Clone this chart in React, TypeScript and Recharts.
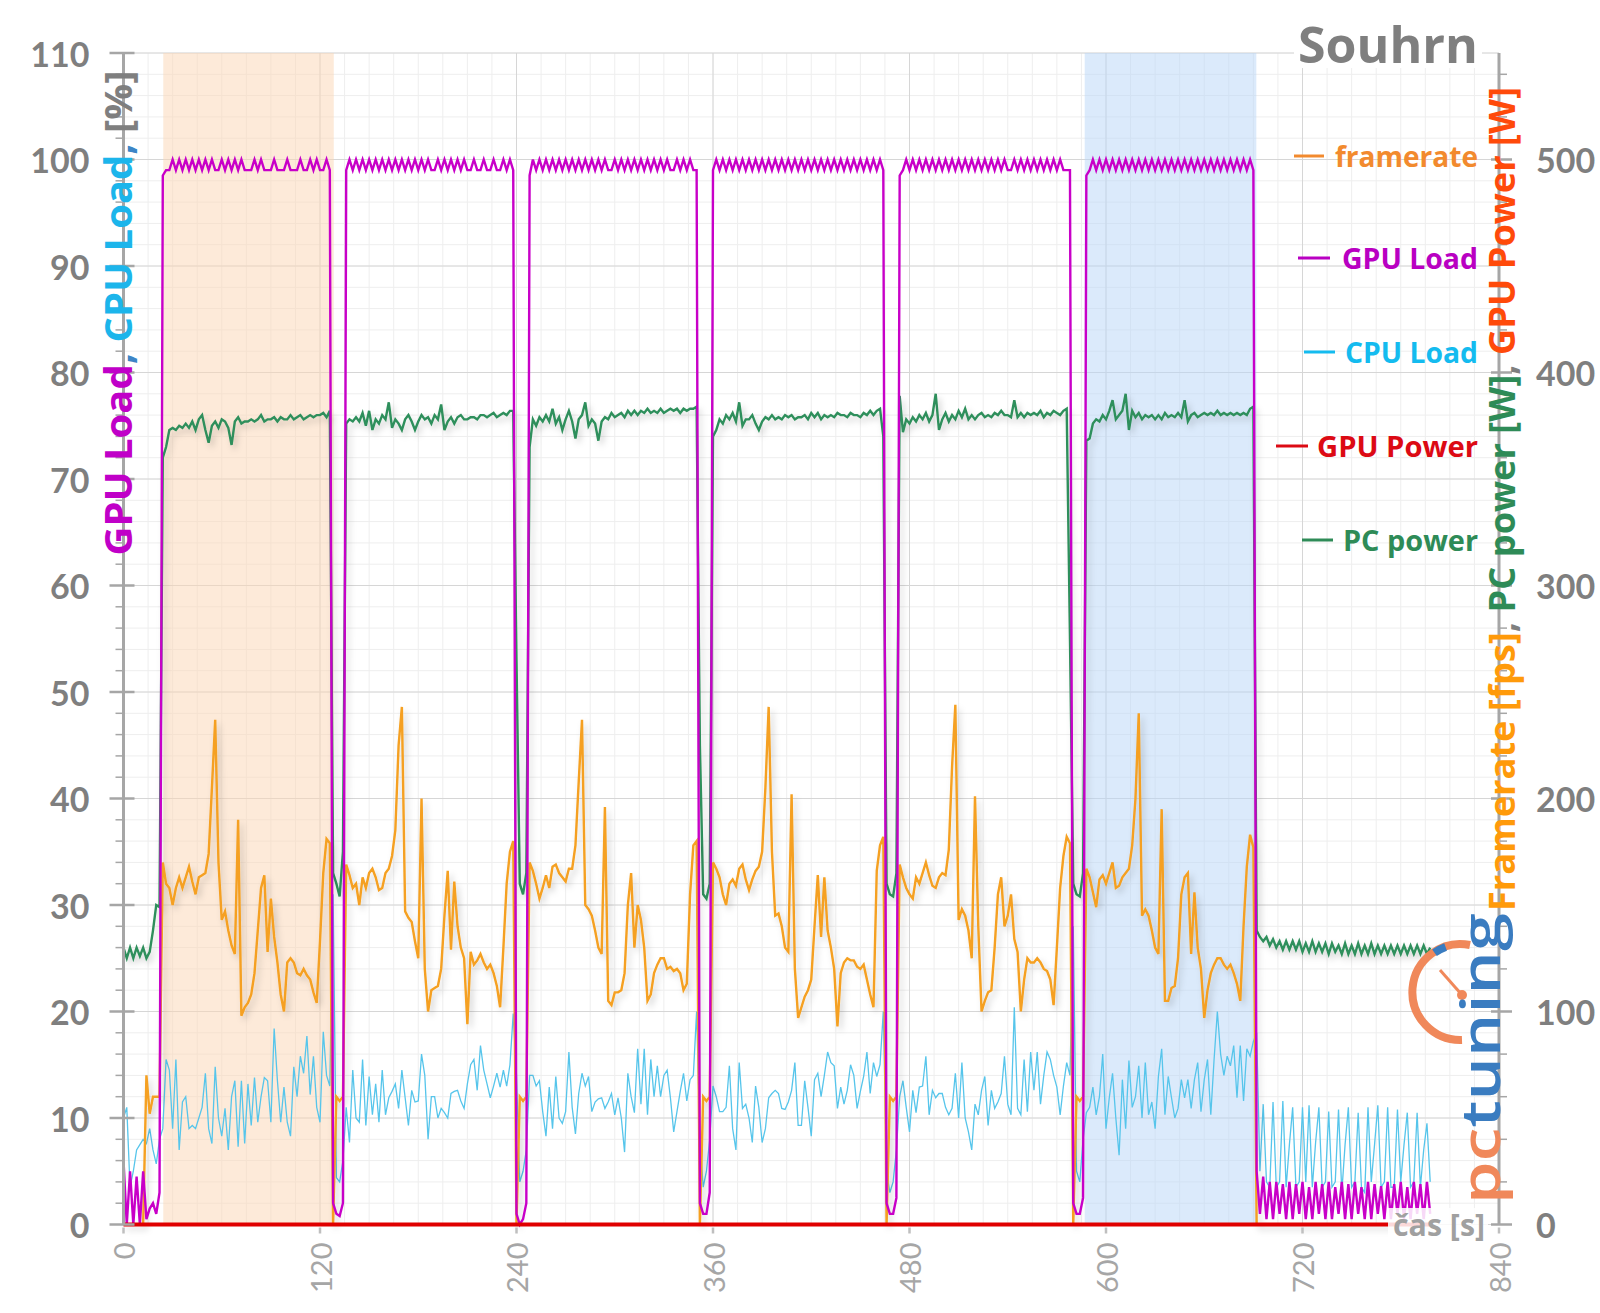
import { LineChart, Line, XAxis, YAxis, CartesianGrid, ReferenceArea } from 'recharts';

// one sample every 2 s, starting at t = 0
const SAMPLE_STEP = 2;

// framerate [fps]
const FRAMERATE = [
  0, 0, 0, 0, 0, 0, 0, 70, 52, 60, 60, 60,
  // run 1
  170, 160, 158, 150, 158, 163, 158, 163, 168, 161,
  155, 163, 164, 165, 174, 205, 237, 170, 143, 147,
  138, 131, 127, 190, 98, 102, 104, 108, 118, 138,
  158, 164, 128, 153, 135, 123, 108, 100, 123, 125,
  123, 118, 117, 120, 117, 115, 109, 104, 133, 165,
  181, 179,
  0, 60, 58, 60,
  // run 2
  169, 164, 158, 160, 150, 163, 158, 165, 167, 163,
  157, 158, 165, 167, 173, 185, 225, 243, 147, 144,
  142, 133, 125, 200, 120, 100, 110, 111, 112, 120,
  145, 166, 129, 161, 140, 130, 125, 94, 128, 122,
  124, 127, 123, 120, 122, 118, 112, 102, 130, 160,
  175, 180,
  0, 60, 58, 60,
  // run 3
  170, 166, 160, 153, 158, 164, 158, 168, 169, 165,
  163, 161, 167, 167, 178, 208, 237, 150, 148, 145,
  138, 130, 127, 196, 105, 103, 109, 109, 110, 118,
  150, 165, 130, 150, 143, 130, 105, 108, 118, 122,
  125, 125, 120, 121, 119, 120, 118, 110, 113, 155,
  178, 180,
  0, 60, 58, 60,
  // run 4
  170, 167, 163, 155, 150, 160, 162, 159, 167, 169,
  162, 157, 162, 166, 168, 175, 205, 243, 175, 145,
  146, 140, 130, 128, 202, 120, 97, 102, 107, 110,
  115, 140, 164, 135, 163, 138, 130, 120, 93, 118,
  123, 125, 124, 124, 121, 120, 122, 115, 108, 102,
  166, 178,
  182, 0, 60, 58, 60,
  // run 5
  169, 163, 158, 155, 153, 163, 160, 165, 170, 164,
  159, 158, 163, 165, 164, 176, 215, 244, 143, 148,
  145, 138, 125, 201, 140, 100, 105, 109, 110, 130,
  155, 163, 140, 145, 155, 134, 128, 100, 115, 125,
  123, 123, 125, 123, 120, 119, 115, 103, 130, 158,
  173, 182,
  179, 0, 60, 58, 60,
  // run 6
  167, 163, 156, 149, 162, 164, 160, 165, 170, 158,
  159, 163, 165, 167, 178, 200, 240, 145, 148, 145,
  138, 130, 127, 195, 105, 105, 111, 112, 125, 155,
  163, 165, 127, 156, 130, 120, 97, 110, 118, 122,
  125, 125, 122, 120, 122, 118, 113, 105, 140, 168,
  183, 177,
  // idle
  0, 0, 0, 0, 0, 0, 0, 0, 0, 0,
  0, 0, 0, 0, 0, 0, 0, 0, 0, 0,
  0, 0, 0, 0, 0, 0, 0, 0, 0, 0,
  0, 0, 0, 0, 0, 0, 0, 0, 0, 0,
  0, 0, 0, 0, 0, 0, 0, 0, 0, 0,
  0, 0, 0, 0,
];

// GPU load [%]
const GPU_LOAD = [
  6, 0, 5, 0, 4.5, 0, 5, 0.5, 1.5, 2, 1, 3,
  98.5, 99, 99, 100, 99, 100, 99, 100, 99, 100,
  99, 100, 99, 100, 99, 100, 99, 99, 100, 99,
  100, 99, 100, 99, 100, 99, 99, 99, 100, 99,
  100, 99, 99, 99, 100, 99, 99, 99, 100, 99,
  99, 99, 100, 99, 99, 100, 99, 100, 99, 99,
  100, 99,
  2, 1, 0.8, 2,
  99, 100, 99, 100, 99, 100, 99, 100, 99, 100,
  99, 100, 99, 100, 99, 100, 99, 100, 99, 100,
  99, 100, 99, 100, 99, 100, 99, 99, 100, 99,
  100, 99, 100, 99, 100, 99, 100, 99, 99, 100,
  99, 99, 100, 99, 99, 100, 99, 99, 100, 99,
  100, 99,
  1, 0, 0.5, 2,
  98.5, 100, 99, 100, 99, 100, 99, 100, 99, 100,
  99, 100, 99, 100, 99, 100, 99, 100, 99, 100,
  99, 100, 99, 100, 99, 99, 100, 99, 100, 99,
  100, 99, 100, 99, 100, 99, 100, 99, 100, 99,
  100, 99, 100, 99, 99, 100, 99, 100, 99, 100,
  99, 99,
  2, 1, 1, 3,
  99, 100, 99, 100, 99, 100, 99, 100, 99, 100,
  99, 100, 99, 100, 99, 100, 99, 100, 99, 100,
  99, 100, 99, 100, 99, 100, 99, 100, 99, 100,
  99, 100, 99, 100, 99, 100, 99, 100, 99, 100,
  99, 100, 99, 100, 99, 100, 99, 100, 99, 100,
  99, 100,
  99, 2, 1, 1, 2.5,
  98.5, 99, 100, 99, 100, 99, 100, 99, 100, 99,
  100, 99, 100, 99, 100, 99, 100, 99, 100, 99,
  100, 99, 100, 99, 100, 99, 100, 99, 100, 99,
  100, 99, 100, 99, 99, 100, 99, 100, 99, 100,
  99, 100, 99, 100, 99, 100, 99, 100, 99, 100,
  99, 99,
  99, 2, 1, 1, 2.5,
  98.5, 99, 100, 99, 100, 99, 100, 99, 100, 99,
  100, 99, 100, 99, 100, 99, 100, 99, 100, 99,
  100, 99, 100, 99, 100, 99, 100, 99, 100, 99,
  100, 99, 100, 99, 100, 99, 100, 99, 100, 99,
  100, 99, 100, 99, 100, 99, 100, 99, 100, 99,
  100, 99,
  5, 1, 4.5, 0.5, 4, 0.5, 4, 1, 3.8, 0.5,
  4, 0.5, 3.8, 1, 4, 0.5, 3.5, 0.5, 4, 1,
  3.8, 0.5, 4, 0.5, 3.5, 1, 4, 0.5, 3.8, 0.5,
  4, 1, 3.5, 0.5, 4, 0.5, 3.8, 1, 3.6, 0.5,
  4, 0.5, 3.8, 1, 4, 0.5, 3.5, 0.5, 4, 1,
  3.8, 0.5, 4, 1,
];

// CPU load [%]
const CPU_LOAD = [
  10, 11, 3.5, 5, 7, 7.5, 8, 7.6, 9, 7, 5.7, 8,
  9, 15.5, 14.5, 9, 15.5, 7, 11.5, 12, 9, 9.3,
  9, 10, 11, 14.2, 9, 7.6, 14.8, 10, 8.3, 10.9,
  7, 12, 13.5, 7.3, 13.5, 7.6, 13.2, 9.3, 13.8, 9.6,
  12, 13.8, 13.5, 9.6, 18.4, 13.5, 9.6, 12.9, 9.6, 8.3,
  14.8, 12, 15.8, 14.2, 17.7, 12.2, 15.8, 11, 9.6, 18.1,
  14, 13,
  31, 4.4, 4, 6,
  11, 7.7, 14.5, 10, 9.6, 15.5, 9.3, 13.9, 10.3, 13.2,
  9.6, 14.5, 10.3, 11.9, 12.5, 13.2, 10.9, 14.5, 11.9, 9.3,
  12.6, 11.5, 11.6, 16, 14, 8, 12, 12, 10, 10.9,
  10.5, 10, 12.3, 12.5, 12.6, 11.6, 10.9, 13.2, 15, 15.5,
  12.6, 16.8, 14.5, 13.2, 11.9, 13, 14.2, 12.9, 14.5, 13,
  15, 19.8,
  14, 4, 5, 7,
  14, 14, 13, 13.5, 10.6, 8.3, 12.9, 9, 13.9, 10,
  9.5, 10.6, 16.2, 11, 8.5, 12.3, 14.2, 13, 13.9, 10.6,
  11.5, 11.8, 11.9, 10.9, 11.5, 12.3, 10.3, 11.9, 10, 6.8,
  14.2, 12, 10.5, 16.5, 11.3, 16.5, 10.3, 15.5, 12, 14.9,
  12, 14, 14.5, 11.9, 8.7, 10.6, 12.5, 14.2, 11.6, 13.6,
  14, 20,
  8, 3.5, 5, 8,
  13, 12, 10.6, 10.6, 11, 14.9, 9, 7, 15.2, 10.9,
  11.3, 10, 7.7, 13, 11, 7.7, 9, 11.9, 12.3, 12.6,
  12.3, 10.9, 10.8, 11.5, 12.6, 15.2, 9.3, 9.3, 13.5, 11,
  8.3, 13.6, 14.2, 12, 14, 16.2, 15.2, 14.9, 10.9, 12.9,
  11.3, 12.6, 15, 14, 10.9, 12.5, 13.9, 16.2, 12.3, 15.2,
  13.9, 15,
  20, 5, 3, 4, 7,
  12, 13.5, 11, 8.7, 12.6, 10.5, 12.9, 13, 15.8, 10.3,
  12.6, 11.9, 12.3, 12.3, 11, 10.3, 10.9, 14.2, 10, 15.2,
  10, 8.7, 7, 11.3, 10.3, 12.6, 13.9, 9.3, 12.6, 10.9,
  11.5, 12.3, 15.8, 11.3, 10.3, 20.4, 10.9, 10.3, 15.5, 10.6,
  16.2, 12.6, 16.2, 11.3, 14, 16.2, 15.5, 14, 12.9, 10.3,
  13, 15.2,
  14, 28, 5, 4, 8,
  10.5, 11, 12.9, 10.3, 12, 16, 9, 11.9, 14.2, 10,
  6.5, 13.6, 9, 15.4, 11, 12, 14.9, 10, 15.2, 10.3,
  11.5, 9, 13.9, 16.5, 10.3, 13.9, 11.9, 10, 10.9, 13.6,
  11.9, 13.6, 10.9, 13.6, 15.2, 10.6, 13.6, 15.5, 10.3, 15.5,
  20, 16, 14, 15.8, 14.9, 16.8, 11.9, 16.8, 11.6, 16.5,
  15.8, 17.2,
  18, 5, 11.3, 4, 3.5, 11.5, 3.5, 4, 11.6, 3.5,
  7.5, 11, 3.5, 4, 11, 4, 11.2, 3.5, 7.7, 11,
  3.5, 4, 10.6, 3.5, 4, 10.8, 3, 7.5, 11, 3.5,
  4, 10.5, 3.5, 3, 11, 4, 7.5, 11.2, 3.5, 4,
  11, 3.5, 3.5, 10.8, 4, 7.5, 10.5, 3.5, 4, 10.5,
  3.5, 7, 9.5, 4,
];

// PC power [W]
const PC_POWER = [
  130, 125, 130, 125, 130, 126, 130, 125, 128, 138, 150, 149,
  360, 365, 373, 374, 373, 375, 374, 376, 374, 377,
  373, 378, 380, 373, 367, 375, 377, 374, 378, 377,
  374, 366, 377, 379, 376, 377, 377, 378, 377, 378,
  380, 377, 378, 378, 379, 377, 379, 378, 378, 380,
  378, 379, 380, 378, 379, 380, 379, 380, 380, 381,
  379, 382,
  165, 160, 154, 175,
  376, 378, 377, 379, 377, 381, 375, 382, 373, 378,
  376, 380, 378, 386, 374, 378, 376, 373, 378, 380,
  377, 373, 377, 380, 378, 379, 376, 380, 378, 385,
  373, 377, 379, 376, 379, 380, 378, 378, 379, 379,
  378, 380, 380, 379, 380, 381, 379, 380, 381, 380,
  382, 382,
  265, 160, 155, 165,
  365, 378, 375, 379, 377, 380, 377, 383, 376, 379,
  373, 378, 382, 377, 369, 378, 380, 386, 375, 378,
  376, 368, 377, 379, 378, 381, 379, 380, 381, 379,
  382, 380, 382, 380, 382, 381, 383, 381, 382, 381,
  383, 381, 382, 383, 382, 383, 381, 383, 382, 383,
  383, 384,
  225, 155, 153, 160,
  370, 373, 378, 376, 380, 378, 381, 377, 386, 375,
  378, 378, 380, 376, 373, 377, 379, 378, 380, 378,
  379, 378, 380, 379, 380, 378, 379, 379, 380, 378,
  381, 379, 381, 378, 380, 379, 380, 379, 381, 380,
  380, 379, 381, 380, 380, 379, 381, 380, 382, 380,
  382, 383,
  370, 160, 155, 154, 165,
  389, 372, 378, 376, 379, 377, 380, 378, 381, 377,
  380, 390, 373, 378, 381, 377, 380, 378, 382, 379,
  383, 378, 380, 378, 380, 381, 379, 380, 379, 381,
  380, 382, 380, 380, 379, 387, 379, 381, 379, 381,
  380, 381, 380, 382, 379, 381, 380, 382, 381, 380,
  382, 383,
  275, 160, 155, 154, 165,
  368, 369, 376, 378, 377, 380, 378, 382, 387, 378,
  380, 382, 390, 373, 382, 379, 381, 378, 380, 379,
  380, 378, 380, 378, 381, 379, 380, 379, 381, 379,
  387, 377, 380, 381, 379, 380, 381, 380, 381, 380,
  382, 380, 381, 380, 381, 380, 381, 380, 381, 380,
  383, 384,
  138, 135, 133, 135, 131, 134, 130, 133, 129, 133,
  129, 133, 129, 133, 128, 132, 128, 133, 128, 132,
  128, 132, 127, 132, 128, 131, 127, 132, 127, 131,
  127, 132, 127, 131, 127, 132, 127, 131, 127, 131,
  127, 131, 127, 131, 127, 131, 127, 131, 127, 131,
  127, 131, 127, 130,
];

// GPU power [W] stays at zero for the whole recording
const GPU_POWER = [
  { t: 0, gpuPower: 0 },
  { t: 798, gpuPower: 0 },
];

const X_TICKS = [0, 120, 240, 360, 480, 600, 720, 840];
const X_MINOR_STEP = 15;
const LEFT_MINOR_STEP = 2;
const RIGHT_MINOR_STEP = 20;

// highlighted runs [s]
const HIGHLIGHTS = [
  { from: 24.3, to: 128.4, color: '#fbd5b3' },
  { from: 587, to: 691.8, color: '#b7d5f7' },
];

const data = FRAMERATE.map((fps, i) => ({
  t: i * SAMPLE_STEP,
  fps,
  gpuLoad: GPU_LOAD[i],
  cpuLoad: CPU_LOAD[i],
  pcPower: PC_POWER[i],
}));

const range = (to: number, step: number) => {
  const out: number[] = [];
  for (let v = 0; v <= to; v += step) out.push(v);
  return out;
};

const X_MINOR = range(840, X_MINOR_STEP);
const LEFT_TICKS = range(110, LEFT_MINOR_STEP);
const RIGHT_TICKS = range(540, RIGHT_MINOR_STEP);

const AXIS_GRAY = '#a6a6a6';
const LABEL_GRAY = '#7f7f7f';
const TITLE_FONT = '"Open Sans", sans-serif';
const TICK_FONT = 'Lato, sans-serif';

function LeftTick({ x, y, payload }: any) {
  const major = payload.value % 10 === 0;
  return (
    <g>
      <line x1={major ? x - 14 : x - 8} x2={major ? x + 11 : x} y1={y} y2={y} stroke={AXIS_GRAY} strokeWidth={major ? 2.5 : 1.5} />
      {major && (
        <text x={x - 34} y={y} textAnchor="end" dominantBaseline="central" fontFamily={TICK_FONT} fontWeight={700} fontSize={34} fill={LABEL_GRAY}>
          {payload.value}
        </text>
      )}
    </g>
  );
}

function RightTick({ x, y, payload }: any) {
  const major = payload.value % 100 === 0;
  return (
    <g>
      <line x1={major ? x - 8 : x} x2={major ? x + 13 : x + 8} y1={y} y2={y} stroke={AXIS_GRAY} strokeWidth={major ? 2.5 : 1.5} />
      {major && (
        <text x={x + 37} y={y} textAnchor="start" dominantBaseline="central" fontFamily={TICK_FONT} fontWeight={700} fontSize={34} fill={LABEL_GRAY}>
          {payload.value}
        </text>
      )}
    </g>
  );
}

function BottomTick({ x, y, payload }: any) {
  const ly = y + 18;
  return (
    <g>
      <line x1={x} x2={x} y1={y + 3} y2={y + 9} stroke="#bfbfbf" strokeWidth={2.5} />
      <text x={x} y={ly} transform={`rotate(-90 ${x} ${ly})`} textAnchor="end" dominantBaseline="central" fontFamily={TICK_FONT} fontSize={29} fill={AXIS_GRAY}>
        {payload.value}
      </text>
    </g>
  );
}

const LEGEND = [
  { label: 'framerate', color: '#f28a2e', y: 156, x0: 1294, x1: 1324, textX: 1335 },
  { label: 'GPU Load', color: '#b900c2', y: 258, x0: 1298, x1: 1330, textX: 1342 },
  { label: 'CPU Load', color: '#14bbef', y: 352, x0: 1304, x1: 1335, textX: 1345 },
  { label: 'GPU Power', color: '#dc0a14', y: 446, x0: 1276, x1: 1308, textX: 1317 },
  { label: 'PC power', color: '#2e8b57', y: 540, x0: 1302, x1: 1333, textX: 1343 },
];

// soft shadow like the one under the lines of the original
function ShadowDefs() {
  return (
    <svg width={0} height={0} style={{ position: 'absolute' }}>
      <defs>
        <filter id="lineShadow" x="-5%" y="-5%" width="110%" height="110%">
          <feDropShadow dx={3} dy={4} stdDeviation={3} floodColor="#000" floodOpacity={0.18} />
        </filter>
      </defs>
    </svg>
  );
}

function Overlay() {
  return (
    <svg width={1600} height={1313} style={{ position: 'absolute', left: 0, top: 0, pointerEvents: 'none' }}>
      <rect x={1294} y={20} width={188} height={48} fill="#fff" />
      <text x={1298} y={63} textLength={180} lengthAdjust="spacingAndGlyphs" fontFamily={TITLE_FONT} fontWeight={700} fontSize={50} fill={LABEL_GRAY}>
        Souhrn
      </text>

      {LEGEND.map((l) => (
        <g key={l.label}>
          <line x1={l.x0} x2={l.x1} y1={l.y} y2={l.y} stroke={l.color} strokeWidth={3} />
          <text x={l.textX} y={l.y} dominantBaseline="central" textLength={1478 - l.textX} lengthAdjust="spacingAndGlyphs" fontFamily={TITLE_FONT} fontWeight={700} fontSize={28} fill={l.color}>
            {l.label}
          </text>
        </g>
      ))}

      <text x={117} y={313} transform="rotate(-90 117 313)" textAnchor="middle" dominantBaseline="central" textLength={485} lengthAdjust="spacingAndGlyphs" fontFamily={TITLE_FONT} fontWeight={700} fontSize={38}>
        <tspan fill="#c000c8">GPU Load</tspan>
        <tspan fill="#3d85c6">, </tspan>
        <tspan fill="#1cb5eb">CPU Load</tspan>
        <tspan fill="#3d85c6">, </tspan>
        <tspan fill={LABEL_GRAY}>[%]</tspan>
      </text>

      <text x={1501} y={499} transform="rotate(-90 1501 499)" textAnchor="middle" dominantBaseline="central" textLength={824} lengthAdjust="spacingAndGlyphs" fontFamily={TITLE_FONT} fontWeight={700} fontSize={36}>
        <tspan fill="#ff9a0a">Framerate [fps]</tspan>
        <tspan fill={LABEL_GRAY}>, </tspan>
        <tspan fill="#2e8b57">PC power [W]</tspan>
        <tspan fill={LABEL_GRAY}>, </tspan>
        <tspan fill="#ff4a0a">GPU Power [W]</tspan>
      </text>

      <rect x={1388} y={1208} width={100} height={33} fill="#fff" fillOpacity={0.85} />
      <text x={1393} y={1224} dominantBaseline="central" textLength={92} lengthAdjust="spacingAndGlyphs" fontFamily={TITLE_FONT} fontWeight={700} fontSize={30} fill="#a0a0a0">
        čas [s]
      </text>

      {/* pctuning logo */}
      <path d="M 1470 945 A 48 48 0 1 0 1462 1040" fill="none" stroke="#f0885a" strokeWidth={8} />
      <path d="M 1434.5 952.7 A 48 48 0 0 1 1445.6 946.9" fill="none" stroke="#3a7cc0" strokeWidth={8} />
      <line x1={1440} y1={970} x2={1462} y2={995} stroke="#f0885a" strokeWidth={3} />
      <circle cx={1462} cy={995} r={5} fill="#f0885a" />
      <text x={1500} y={1204} transform="rotate(-90 1500 1204)" textLength={291} lengthAdjust="spacingAndGlyphs" fontFamily={TITLE_FONT} fontWeight={600} fontSize={55}>
        <tspan fill="#f0885a">pc</tspan>
        <tspan fill="#3a7cc0">tuning</tspan>
      </text>
    </svg>
  );
}

export default function App() {
  return (
    <div style={{ position: 'absolute', left: 0, top: 0, width: 1600, height: 1313, background: '#fff' }}>
      <ShadowDefs />
      <LineChart width={1600} height={1313} data={data} margin={{ top: 53, right: 41, bottom: 28.5, left: 63.5 }}>
        <CartesianGrid yAxisId="left" stroke="#eeeeee" horizontalValues={LEFT_TICKS} verticalValues={X_MINOR} />
        <CartesianGrid yAxisId="left" stroke="#d6d6d6" horizontalValues={range(110, 10)} verticalValues={X_TICKS} />
        {HIGHLIGHTS.map((h) => (
          <ReferenceArea key={h.from} yAxisId="left" x1={h.from} x2={h.to} y1={0} y2={110} fill={h.color} fillOpacity={0.5} stroke="none" />
        ))}
        <XAxis
          dataKey="t"
          type="number"
          domain={[0, 840]}
          ticks={X_TICKS}
          interval={0}
          height={60}
          tickSize={0}
          tickMargin={0}
          tickLine={false}
          axisLine={false}
          tick={(p: any) => <BottomTick {...p} />}
        />
        <YAxis
          yAxisId="left"
          type="number"
          domain={[0, 110]}
          ticks={LEFT_TICKS}
          interval={0}
          width={60}
          tickSize={0}
          tickMargin={0}
          tickLine={false}
          axisLine={{ stroke: AXIS_GRAY, strokeWidth: 3 }}
          tick={(p: any) => <LeftTick {...p} />}
        />
        <YAxis
          yAxisId="right"
          orientation="right"
          type="number"
          domain={[0, 550]}
          ticks={RIGHT_TICKS}
          interval={0}
          width={60}
          tickSize={0}
          tickMargin={0}
          tickLine={false}
          axisLine={{ stroke: AXIS_GRAY, strokeWidth: 3 }}
          tick={(p: any) => <RightTick {...p} />}
        />
        <Line yAxisId="left" dataKey="cpuLoad" stroke="#56c5eb" strokeWidth={1.3} dot={false} activeDot={false} isAnimationActive={false} />
        <Line yAxisId="right" dataKey="pcPower" stroke="#2f8f5b" strokeWidth={2.4} dot={false} activeDot={false} isAnimationActive={false} filter="url(#lineShadow)" />
        <Line yAxisId="right" dataKey="fps" stroke="#f5a020" strokeWidth={2.4} dot={false} activeDot={false} isAnimationActive={false} filter="url(#lineShadow)" />
        <Line yAxisId="left" dataKey="gpuLoad" stroke="#c800c8" strokeWidth={2.4} dot={false} activeDot={false} isAnimationActive={false} />
        <Line yAxisId="right" data={GPU_POWER} dataKey="gpuPower" stroke="#e00000" strokeWidth={4} dot={false} activeDot={false} isAnimationActive={false} />
      </LineChart>
      <Overlay />
    </div>
  );
}
